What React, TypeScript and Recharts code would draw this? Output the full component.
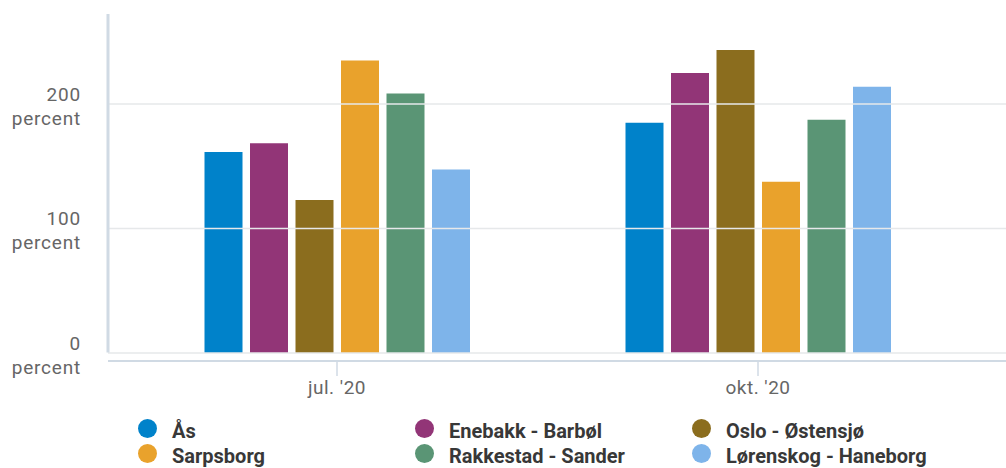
import React from "react";
import { BarChart, Bar, XAxis, YAxis, ReferenceLine, Legend } from "recharts";

// Periods on the category axis
const periods = ["jul. '20", "okt. '20"];

// Values per site, in percent, one entry per period
const asPct = [161.5, 185];
const enebakkPct = [168.5, 225];
const osloPct = [123, 243.5];
const sarpsborgPct = [235, 137.5];
const rakkestadPct = [208.5, 187.5];
const lorenskogPct = [147.5, 214];

// Value axis ticks and their unit line
const yTicks = [0, 100, 200];
const unitLabel = "percent";

const series = [
  { key: "as", name: "Ås", color: "#0082CA", values: asPct },
  { key: "enebakk", name: "Enebakk - Barbøl", color: "#923577", values: enebakkPct },
  { key: "oslo", name: "Oslo - Østensjø", color: "#8B6D1E", values: osloPct },
  { key: "sarpsborg", name: "Sarpsborg", color: "#E9A22C", values: sarpsborgPct },
  { key: "rakkestad", name: "Rakkestad - Sander", color: "#5A9575", values: rakkestadPct },
  { key: "lorenskog", name: "Lørenskog - Haneborg", color: "#7EB4EA", values: lorenskogPct },
];

const data = periods.map((period, i) => {
  const row: Record<string, string | number> = { period };
  series.forEach((s) => {
    row[s.key] = s.values[i];
  });
  return row;
});

const FONT = "Roboto, 'Noto Sans', sans-serif";
const LABEL_COLOR = "#666";
const AXIS_COLOR = "#D0DAE4";
const GRID_COLOR = "#E6E8EA";

const YTick = (props: any) => {
  const { x, y, payload } = props;
  return (
    <text
      x={x}
      y={y}
      textAnchor="end"
      fill={LABEL_COLOR}
      fontSize={19}
      letterSpacing={0.8}
      fontFamily={FONT}
    >
      <tspan x={x} dy={-3}>
        {payload.value}
      </tspan>
      <tspan x={x} dy={24}>
        {unitLabel}
      </tspan>
    </text>
  );
};

const LegendContent = () => (
  <div
    style={{
      display: "grid",
      gridTemplateColumns: "repeat(3, 277px)",
      fontFamily: FONT,
    }}
  >
    {series.map((s) => (
      <div
        key={s.key}
        style={{ display: "flex", alignItems: "center", height: 25 }}
      >
        <span
          style={{
            width: 19,
            height: 19,
            borderRadius: "50%",
            background: s.color,
            marginRight: 15,
            flex: "none",
          }}
        />
        <span
          style={{
            fontWeight: 700,
            fontSize: 20,
            color: "#383838",
            position: "relative",
            top: 2,
            whiteSpace: "nowrap",
          }}
        >
          {s.name}
        </span>
      </div>
    ))}
  </div>
);

export default function App() {
  return (
    <div style={{ position: "absolute", left: 0, top: 0, background: "#fff" }}>
      <BarChart
        width={1006}
        height={468}
        data={data}
        margin={{ top: 14, right: 0, left: 0, bottom: 67 }}
        barGap={7.5}
        style={{ fontFamily: FONT }}
      >
        {yTicks.map((t) => (
          <ReferenceLine
            key={t}
            y={t}
            stroke={GRID_COLOR}
            strokeWidth={1.5}
          />
        ))}
        <XAxis
          dataKey="period"
          height={40}
          padding={{ left: 18.5, right: 37.5 }}
          axisLine={{ stroke: AXIS_COLOR, strokeWidth: 2 }}
          tickLine={{ stroke: AXIS_COLOR, strokeWidth: 1.5 }}
          tickSize={15}
          tickMargin={5}
          tick={{ fill: LABEL_COLOR, fontSize: 19, letterSpacing: 0.5 }}
        />
        <YAxis
          width={108}
          domain={[-6.5, 272.4]}
          ticks={yTicks}
          interval={0}
          tickSize={0}
          tickMargin={27}
          tickLine={false}
          axisLine={{
            stroke: AXIS_COLOR,
            strokeWidth: 3,
            strokeDasharray: "338.6 40",
          }}
          tick={<YTick />}
        />
        <Legend
          layout="vertical"
          align="center"
          verticalAlign="middle"
          wrapperStyle={{ top: 416, left: 138, width: 840 }}
          content={<LegendContent />}
        />
        {series.map((s) => (
          <Bar
            key={s.key}
            dataKey={s.key}
            name={s.name}
            fill={s.color}
            barSize={38}
            isAnimationActive={false}
          />
        ))}
      </BarChart>
    </div>
  );
}
